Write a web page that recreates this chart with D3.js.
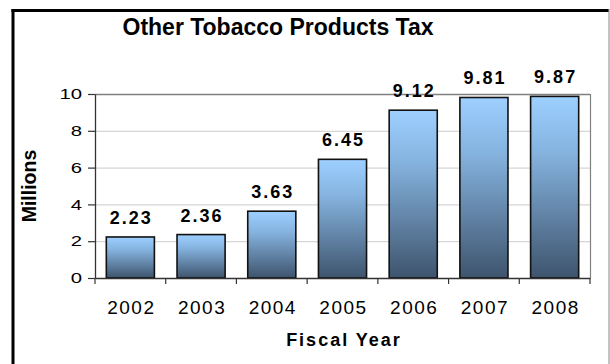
<!DOCTYPE html>
<html>
<head>
<meta charset="utf-8">
<script src="https://cdn.jsdelivr.net/npm/d3@7"></script>
<style>
  html, body { margin: 0; padding: 0; background: #fff; }
  svg { display: block; font-family: "Liberation Sans", Arial, sans-serif; }
</style>
</head>
<body>
<svg id="chart" width="610" height="364"></svg>
<script>
// Other Tobacco Products Tax, by fiscal year (millions)
const years = ["2002", "2003", "2004", "2005", "2006", "2007", "2008"];
const values = [2.23, 2.36, 3.63, 6.45, 9.12, 9.81, 9.87];
const yTicks = [0, 2, 4, 6, 8, 10];
const titleText = "Other Tobacco Products Tax";
const xTitle = "Fiscal Year";
const yTitle = "Millions";

const svg = d3.select("#chart");
const plot = { left: 95, right: 590, top: 94, bottom: 278 };

const x = d3.scaleBand().domain(years).range([plot.left, plot.right]).padding(0);
const y = d3.scaleLinear().domain([0, 10]).range([plot.bottom, plot.top]);

// Bar fill: light blue at the top fading to slate at the base
const defs = svg.append("defs");
const grad = defs.append("linearGradient")
  .attr("id", "barFill").attr("x1", 0).attr("y1", 0).attr("x2", 0).attr("y2", 1);
grad.append("stop").attr("offset", "0%").attr("stop-color", "#9DCFFF");
grad.append("stop").attr("offset", "30%").attr("stop-color", "#86B4E0");
grad.append("stop").attr("offset", "100%").attr("stop-color", "#3E546D");

// Outer frame
svg.append("line").attr("x1", 13).attr("x2", 13).attr("y1", 9).attr("y2", 364)
  .attr("stroke", "#000").attr("stroke-width", 3);
svg.append("line").attr("x1", 11.5).attr("x2", 609).attr("y1", 10.5).attr("y2", 10.5)
  .attr("stroke", "#000").attr("stroke-width", 3);
svg.append("line").attr("x1", 609).attr("x2", 609).attr("y1", 9).attr("y2", 364)
  .attr("stroke", "#9a9a9a").attr("stroke-width", 1.2);

// Title
svg.append("text")
  .attr("x", 278).attr("y", 35)
  .attr("text-anchor", "middle")
  .attr("font-size", 23).attr("font-weight", "bold")
  .text(titleText);

// Horizontal gridlines
svg.append("g").selectAll("line")
  .data(yTicks.filter(t => t > 0))
  .join("line")
  .attr("x1", plot.left).attr("x2", plot.right)
  .attr("y1", d => y(d) + 0.5).attr("y2", d => y(d) + 0.5)
  .attr("stroke", d => d === 10 ? "#808080" : "#d6d6d6")
  .attr("stroke-width", d => d === 10 ? 1.5 : 1.2);

// Right edge of plot area
svg.append("line")
  .attr("x1", plot.right + 0.5).attr("x2", plot.right + 0.5)
  .attr("y1", y(10)).attr("y2", y(0))
  .attr("stroke", "#808080").attr("stroke-width", 1.2);

// Bars
svg.append("g").selectAll("rect")
  .data(values)
  .join("rect")
  .attr("x", (d, i) => x(years[i]) + x.bandwidth() * 0.16)
  .attr("width", x.bandwidth() * 0.68)
  .attr("y", d => y(d))
  .attr("height", d => y(0) - y(d))
  .attr("fill", "url(#barFill)")
  .attr("stroke", "#111")
  .attr("stroke-width", 1.6);

// Value labels
svg.append("g").selectAll("text")
  .data(values)
  .join("text")
  .attr("x", (d, i) => x(years[i]) + x.bandwidth() / 2 + 1)
  .attr("y", d => y(d) - 13)
  .attr("text-anchor", "middle")
  .attr("font-size", 18).attr("font-weight", "bold")
  .attr("letter-spacing", 2)
  .text(d => d.toFixed(2));

// Y axis
const yAxis = svg.append("g")
  .attr("transform", `translate(${plot.left},0)`)
  .call(d3.axisLeft(y).tickValues(yTicks).tickSize(7).tickSizeOuter(0).tickFormat(d3.format("d")));
yAxis.select(".domain").attr("stroke", "#333").attr("stroke-width", 1.3);
yAxis.selectAll(".tick line").attr("stroke", "#333").attr("stroke-width", 1.2);
yAxis.selectAll(".tick text")
  .attr("x", 0)
  .attr("transform", "translate(-13,0) scale(1.4,1)")
  .attr("font-size", 14.5)
  .attr("fill", "#000")
  .attr("font-family", "Liberation Sans, Arial, sans-serif");

// X axis: baseline, category labels, and boundary tick marks
const xAxis = svg.append("g")
  .attr("transform", `translate(0,${plot.bottom})`)
  .call(d3.axisBottom(x).tickSize(0).tickSizeOuter(0));
xAxis.select(".domain").attr("stroke", "#333").attr("stroke-width", 1.3);
xAxis.selectAll(".tick text")
  .attr("y", 0).attr("dy", 35.5).attr("dx", 1)
  .attr("font-size", 19)
  .attr("letter-spacing", 1.5)
  .attr("fill", "#000")
  .attr("font-family", "Liberation Sans, Arial, sans-serif");

const boundaries = years.map(d => x(d)).concat([x.range()[1]]);
xAxis.append("g").selectAll("line")
  .data(boundaries)
  .join("line")
  .attr("x1", d => d).attr("x2", d => d)
  .attr("y1", 0).attr("y2", 6)
  .attr("stroke", "#333").attr("stroke-width", 1.2);

// Axis titles
svg.append("text")
  .attr("x", 344).attr("y", 346)
  .attr("text-anchor", "middle")
  .attr("font-size", 18).attr("font-weight", "bold")
  .attr("letter-spacing", 2)
  .text(xTitle);

svg.append("text")
  .attr("transform", "translate(36,186) rotate(-90)")
  .attr("text-anchor", "middle")
  .attr("font-size", 19.5).attr("font-weight", "bold")
  .text(yTitle);
</script>
</body>
</html>
